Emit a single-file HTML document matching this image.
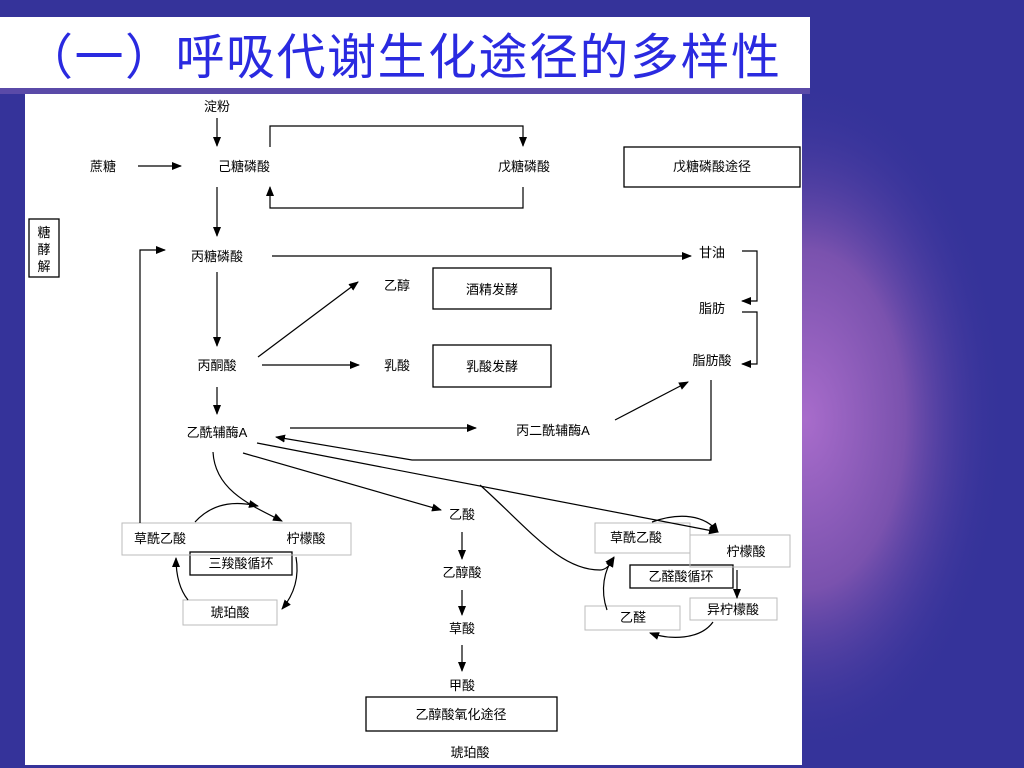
<!DOCTYPE html>
<html><head><meta charset="utf-8"><style>
html,body{margin:0;padding:0;width:1024px;height:768px;overflow:hidden}
body{background:#35339a;position:relative;font-family:"Liberation Sans","Noto Sans CJK SC",sans-serif}
</style></head><body>
<svg width="1024" height="768" viewBox="0 0 1024 768" xmlns="http://www.w3.org/2000/svg" style="position:absolute;left:0;top:0">
<defs>
<radialGradient id="glow" cx="805" cy="420" r="200" gradientUnits="userSpaceOnUse" gradientTransform="translate(805 420) scale(1 1.7) translate(-805 -420)">
<stop offset="0" stop-color="#a86ccb"/><stop offset="0.5" stop-color="#7a52ae"/><stop offset="1" stop-color="#35339a" stop-opacity="0"/>
</radialGradient>
<marker id="a" markerWidth="10" markerHeight="8" refX="9" refY="4" orient="auto" markerUnits="userSpaceOnUse"><path d="M0,0 L10,4 L0,8 z" fill="#000"/></marker>
</defs>
<rect width="1024" height="768" fill="#35339a"/>
<rect x="780" y="40" width="244" height="700" fill="url(#glow)"/>
<rect x="0" y="88" width="810" height="6" fill="#5a4aa8"/>
<rect x="0" y="17" width="810" height="71" fill="#fff"/>
<text x="24" y="74" font-size="49" letter-spacing="1.5" fill="#2a2ae0" font-family="Liberation Sans,Noto Sans CJK SC,sans-serif">（一）呼吸代谢生化途径的多样性</text>
<rect x="25" y="94" width="777" height="671" fill="#fff"/>
<g font-size="13" fill="#000" text-anchor="middle" font-family="Liberation Sans,Noto Sans CJK SC,sans-serif">
<text x="217" y="111">淀粉</text>
<text x="103" y="171">蔗糖</text>
<text x="244" y="171">己糖磷酸</text>
<text x="524" y="171">戊糖磷酸</text>
<text x="712" y="171">戊糖磷酸途径</text>
<text x="217" y="261">丙糖磷酸</text>
<text x="712" y="257">甘油</text>
<text x="712" y="313">脂肪</text>
<text x="712" y="365">脂肪酸</text>
<text x="397" y="290">乙醇</text>
<text x="492" y="294">酒精发酵</text>
<text x="217" y="370">丙酮酸</text>
<text x="397" y="370">乳酸</text>
<text x="492" y="371">乳酸发酵</text>
<text x="217" y="437">乙酰辅酶A</text>
<text x="553" y="435">丙二酰辅酶A</text>
<text x="160" y="543">草酰乙酸</text>
<text x="306" y="543">柠檬酸</text>
<text x="241" y="568">三羧酸循环</text>
<text x="230" y="617">琥珀酸</text>
<text x="462" y="519">乙酸</text>
<text x="462" y="577">乙醇酸</text>
<text x="462" y="633">草酸</text>
<text x="462" y="690">甲酸</text>
<text x="461" y="719">乙醇酸氧化途径</text>
<text x="470" y="757">琥珀酸</text>
<text x="636" y="542">草酰乙酸</text>
<text x="746" y="556">柠檬酸</text>
<text x="681" y="581">乙醛酸循环</text>
<text x="733" y="614">异柠檬酸</text>
<text x="633" y="622">乙醛</text>
<text x="44" y="237">糖</text>
<text x="44" y="254">酵</text>
<text x="44" y="271">解</text>
</g>
<g fill="none" stroke="#000" stroke-width="1.3">
<rect x="29" y="219" width="30" height="58"/>
<rect x="624" y="147" width="176" height="40"/>
<rect x="433" y="268" width="118" height="41"/>
<rect x="433" y="345" width="118" height="42"/>
<rect x="190" y="552" width="102" height="23"/>
<rect x="630" y="565" width="103" height="23"/>
<rect x="366" y="697" width="191" height="34"/>
</g>
<g fill="none" stroke="#bbb" stroke-width="1">
<rect x="122" y="523" width="229" height="32"/>
<rect x="183" y="600" width="94" height="25"/>
<rect x="595" y="523" width="95" height="30"/>
<rect x="690" y="535" width="100" height="32"/>
<rect x="690" y="598" width="87" height="22"/>
<rect x="585" y="606" width="95" height="24"/>
</g>
<g fill="none" stroke="#000" stroke-width="1.2" marker-end="url(#a)">
<line x1="217" y1="118" x2="217" y2="146"/>
<line x1="138" y1="166" x2="181" y2="166"/>
<polyline points="270,147 270,126 523,126 523,146"/>
<polyline points="523,187 523,208 270,208 270,187"/>
<line x1="217" y1="187" x2="217" y2="236"/>
<line x1="272" y1="256" x2="691" y2="256"/>
<polyline points="742,251 757,251 757,301 742,301"/>
<polyline points="742,312 757,312 757,364 742,364"/>
<line x1="217" y1="272" x2="217" y2="346"/>
<line x1="258" y1="357" x2="358" y2="282"/>
<line x1="262" y1="365" x2="359" y2="365"/>
<line x1="217" y1="387" x2="217" y2="414"/>
<line x1="290" y1="428" x2="476" y2="428"/>
<line x1="615" y1="420" x2="688" y2="382"/>
<polyline points="711,380 711,460 412,460 276,437"/>
<line x1="243" y1="453" x2="441" y2="510"/>
<line x1="257" y1="443" x2="718" y2="532"/>
<path d="M480,485 C530,530 560,570 600,570 C606,570 610,565 614,558"/>
<path d="M213,452 C215,490 250,505 282,521"/>
<polyline points="140,523 140,250 165,250"/>
<path d="M195,522 C215,500 240,502 258,506"/>
<path d="M296,557 C300,580 292,597 282,609"/>
<path d="M188,600 C180,590 176,575 176,558"/>
<line x1="462" y1="532" x2="462" y2="559"/>
<line x1="462" y1="590" x2="462" y2="615"/>
<line x1="462" y1="645" x2="462" y2="671"/>
<path d="M652,522 C680,512 705,515 718,532"/>
<line x1="737" y1="570" x2="737" y2="598"/>
<path d="M713,622 C700,640 670,640 650,633"/>
<path d="M607,610 C600,590 604,570 614,557"/>
</g>
</svg>
</body></html>
